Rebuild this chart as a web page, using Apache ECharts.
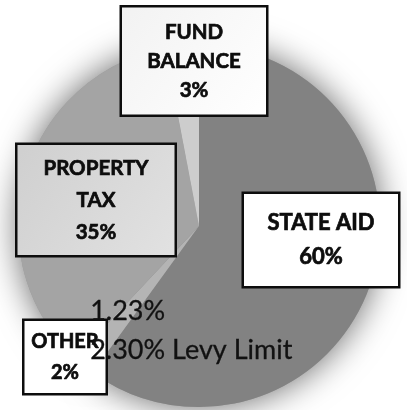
<!DOCTYPE html>
<html>
<head>
<meta charset="utf-8">
<script src="https://cdn.jsdelivr.net/npm/echarts@6/dist/echarts.min.js"></script>
<style>
html,body{margin:0;padding:0;background:#fff;}
#chart{width:407px;height:410px;}
</style>
</head>
<body>
<div id="chart"></div>
<script>
// ---- data ----
const categories = ['STATE AID', 'OTHER', 'PROPERTY TAX', 'FUND BALANCE'];
const labelNames = ['STATE AID', 'OTHER', 'PROPERTY\nTAX', 'FUND\nBALANCE'];
const values = [60, 2, 35, 3];
const annotations = ['1.23%', '2.30% Levy Limit'];

// ---- styles ----
const colors = ['#828282', '#b4b4b4', '#a4a4a4', '#cdcdcd'];
const boxStyles = [
  { width: 154, padV: 12, lineHeight: 34, fontSize: 22, bg: '#ffffff' },
  { width: 81, padV: 5, lineHeight: 31, fontSize: 20, bg: '#ffffff' },
  { width: 157, padV: 7, lineHeight: 32, fontSize: 20.5, bg: { type: 'linear', x: 0, y: 0, x2: 1, y2: 1, colorStops: [{offset: 0, color: '#cfcfcf'}, {offset: 1, color: '#e2e2e2'}] } },
  { width: 144, padV: 10, lineHeight: 29, fontSize: 20.5, bg: { type: 'linear', x: 0, y: 0, x2: 1, y2: 1, colorStops: [{offset: 0, color: '#f2f2f2'}, {offset: 1, color: '#ffffff'}] } }
];
const labelPos = [[321, 240], [65, 357], [96, 200], [194, 61]];

const chart = echarts.init(document.getElementById('chart'), null, { renderer: 'canvas' });

const mainData = categories.map((c, i) => ({
  name: c,
  value: values[i],
  itemStyle: { color: colors[i] },
  label: {
    formatter: labelNames[i] + '\n' + values[i] + '%',
    width: boxStyles[i].width,
    padding: [boxStyles[i].padV, 0, boxStyles[i].padV, 0],
    lineHeight: boxStyles[i].lineHeight,
    fontSize: boxStyles[i].fontSize,
    backgroundColor: boxStyles[i].bg
  }
}));

const shadowData = categories.map((c, i) => ({ name: c, value: values[i] }));

chart.setOption({
  animation: false,
  backgroundColor: '#ffffff',
  series: [
    {
      type: 'pie',
      silent: true,
      z: 1,
      center: [199, 226],
      radius: 181,
      startAngle: 90,
      clockwise: true,
      label: { show: false },
      labelLine: { show: false },
      itemStyle: {
        color: '#9a9a9a',
        shadowBlur: 34,
        shadowColor: 'rgba(0,0,0,0.6)'
      },
      data: shadowData
    },
    {
      type: 'pie',
      z: 2,
      center: [199, 226],
      radius: 181,
      startAngle: 90,
      clockwise: true,
      itemStyle: { borderWidth: 0 },
      labelLine: { show: false },
      label: {
        show: true,
        position: 'inside',
        align: 'center',
        verticalAlign: 'middle',
        fontFamily: 'Lato',
        fontWeight: 'bold',
        color: '#0d0d0d',
        textBorderColor: '#0d0d0d',
        textBorderWidth: 0.7,
        borderColor: '#0d0d0d',
        borderWidth: 2.5
      },
      labelLayout: function (params) {
        const p = labelPos[params.dataIndex];
        return { x: p[0], y: p[1], hideOverlap: false, moveOverlap: false };
      },
      data: mainData
    }
  ],
  graphic: [
    {
      type: 'text',
      z: 100,
      left: 90,
      top: 298,
      style: { text: annotations[0], fontFamily: 'Lato', fontSize: 27, fill: '#111111', stroke: '#111111', lineWidth: 0.3 }
    },
    {
      type: 'text',
      z: 100,
      left: 90,
      top: 337,
      style: { text: annotations[1], fontFamily: 'Lato', fontSize: 27, fill: '#111111', stroke: '#111111', lineWidth: 0.3 }
    }
  ]
});
</script>
</body>
</html>
